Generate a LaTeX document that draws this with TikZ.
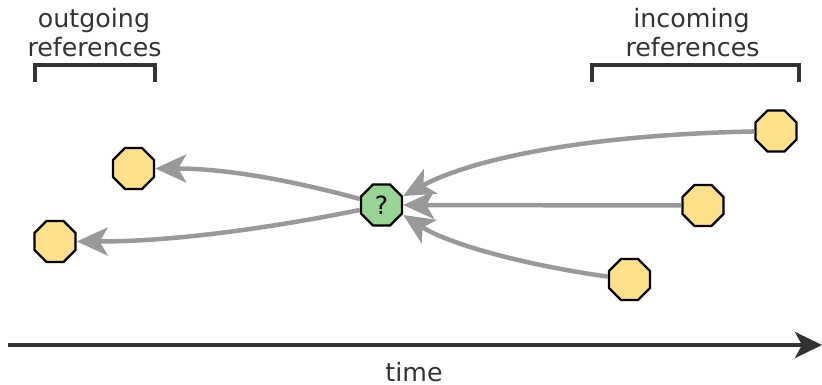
\documentclass[tikz,border=0pt]{standalone}
\usepackage{fontspec}
\setmainfont{DejaVu Sans}
\usetikzlibrary{arrows.meta,shapes.geometric}
\definecolor{txt}{HTML}{333333}
\definecolor{arr}{HTML}{999999}
\definecolor{oct}{HTML}{FFE08A}
\definecolor{octg}{HTML}{98D494}
\tikzset{
  octnode/.style={regular polygon, regular polygon sides=8, minimum size=44.4pt, inner sep=0pt, draw=black, line width=2.4pt, fill=oct},
  centernode/.style={octnode, fill=octg, font=\fontsize{25}{29}\selectfont},
  refarrow/.style={draw=arr, line width=4.5pt, -{Stealth[length=31pt, width=28pt, inset=8pt]}},
  bracketline/.style={draw=txt, line width=4pt, miter limit=10},
  lbl/.style={text=txt, font=\fontsize{25.3}{29}\selectfont, align=center, inner sep=0pt},
}
\begin{document}
\begin{tikzpicture}[x=1pt, y=-1pt]
\useasboundingbox (0,0) rectangle (822,385);
% time axis
\coordinate (t0) at (8,345);
\coordinate (t1) at (822,345);
\draw[draw=txt, line width=4pt, -{Stealth[length=27pt, width=26pt, inset=7pt]}] (t0) -- (t1);
\node[lbl, anchor=base] (time) at (414,381) {time};
% nodes
\node[centernode] (c) at (381.5,205) {?};
\node[octnode] (o1) at (133.5,168.5) {};
\node[octnode] (o2) at (55,241.5) {};
\node[octnode] (i1) at (776,131) {};
\node[octnode] (i2) at (703,205.5) {};
\node[octnode] (i3) at (629.5,279.5) {};
% outgoing
\draw[refarrow] (c.west |- 0,199) .. controls (320,188) and (240,168.5) .. (o1);
\draw[refarrow] (c.west |- 0,210) .. controls (280,226) and (180,241.5) .. (o2);
% incoming
\draw[refarrow] (i1) .. controls (580,135) and (470,160) .. (c.east |- 0,196);
\draw[refarrow] (i2) -- (c);
\draw[refarrow] (i3) .. controls (530,266) and (450,245) .. (c.east |- 0,215);
% brackets
\coordinate (lb1) at (35,82);
\coordinate (lb2) at (155,82);
\draw[bracketline] (lb1) -- (35,65.5) -- (155,65.5) -- (lb2);
\coordinate (rb1) at (591.5,82);
\coordinate (rb2) at (798.5,82);
\draw[bracketline] (rb1) -- (591.5,65.5) -- (798.5,65.5) -- (rb2);
\node[lbl, anchor=base] (out1) at (94,28) {outgoing};
\node[lbl, anchor=base] (out2) at (94.5,57) {references};
\node[lbl, anchor=base] (in1) at (691.5,28) {incoming};
\node[lbl, anchor=base] (in2) at (692.5,57) {references};
\end{tikzpicture}
\end{document}
